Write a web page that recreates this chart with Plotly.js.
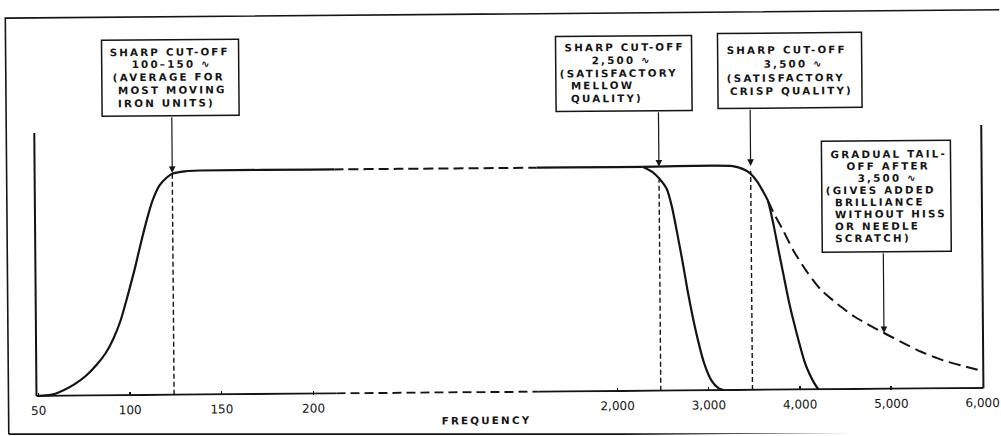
<!DOCTYPE html>
<html>
<head>
<meta charset="utf-8">
<script src="https://cdn.plot.ly/plotly-3.0.1.min.js"></script>
<style>
  html, body { margin: 0; padding: 0; background: #fff; overflow: hidden; }
  #wrap { width: 1001px; height: 436px; transform: rotate(-0.48deg); transform-origin: 500px 218px; }
  #chart { width: 1001px; height: 436px; }
  .annotation-text { letter-spacing: 2.2px; }
</style>
</head>
<body>
<div id="wrap"><div id="chart"></div></div>
<script>
// ---------------- data (frequency in cycles per second, relative response level) ----------------
const lowTicks = [50, 100, 150, 200];
const lowTickText = ['50', '100', '150', '200'];
const highTicks = [2000, 3000, 4000, 5000, 6000];
const highTickText = ['2,000', '3,000', '4,000', '5,000', '6,000'];

// bass rise up to the 100-150 cut-off
const riseFreq  = [50, 54, 58, 64, 70, 76, 82, 87, 91, 95, 99, 103, 106, 110, 113, 117, 121, 124, 131];
const riseLevel = [0, 0.002, 0.006, 0.025, 0.052, 0.088, 0.138, 0.19, 0.25, 0.33, 0.44, 0.56, 0.66, 0.785, 0.865, 0.935, 0.97, 0.987, 0.997];

// flat middle of the response
const plateauFreq  = [139, 200, 500, 1000, 2000, 2296];
const plateauLevel = [1, 1, 1, 1, 1, 1];

// sharp cut-off at 2,500 (mellow)
const mellowFreq  = [2296, 2405, 2482, 2559, 2614, 2668, 2723, 2778, 2833, 2888, 2953, 3030, 3107, 3162];
const mellowLevel = [1.0, 0.976, 0.945, 0.9, 0.82, 0.705, 0.58, 0.445, 0.325, 0.222, 0.12, 0.044, 0.009, 0];

// sharp cut-off at 3,500 (crisp)
const crispFreq  = [2296, 3282, 3392, 3468, 3545, 3611, 3666, 3721, 3775, 3830, 3885, 3940, 3995, 4049, 4104, 4159, 4203];
const crispLevel = [1, 1, 0.987, 0.969, 0.933, 0.888, 0.844, 0.746, 0.629, 0.513, 0.397, 0.299, 0.21, 0.129, 0.071, 0.027, 0];

// gradual tail-off after 3,500
const tailFreq  = [3666, 3742, 3830, 3940, 4093, 4236, 4422, 4597, 4784, 4926, 5112, 5332, 5584, 5770, 6000];
const tailLevel = [0.844, 0.778, 0.711, 0.621, 0.522, 0.446, 0.379, 0.325, 0.28, 0.249, 0.209, 0.164, 0.123, 0.101, 0.076];

// dashed cut-off markers
const cutoffFreq = [124, 2475, 3480];
const cutoffTop  = [0.99, 0.94, 0.978];

// arrow targets
const arrowFreq  = [124, 2475, 3480, 4926];
const arrowLevel = [0.99, 1.0, 1.0, 0.249];

// note texts
const note1 = ['SHARP CUT-OFF', '100–150 ∿', '(AVERAGE FOR', 'MOST MOVING', 'IRON UNITS)'];
const note2 = ['SHARP CUT-OFF', '2,500 ∿', '(SATISFACTORY', 'MELLOW', 'QUALITY)'];
const note3 = ['SHARP CUT-OFF', '3,500 ∿', '(SATISFACTORY', 'CRISP QUALITY)'];
const note4 = ['GRADUAL TAIL-', 'OFF AFTER', '3,500 ∿', '(GIVES ADDED', 'BRILLIANCE', 'WITHOUT HISS', 'OR NEEDLE', 'SCRATCH)'];
const xTitle = 'FREQUENCY';

// ---------------- layout geometry ----------------
const INK = '#141414';
const L = 35, R = 982, T = 129, B = 393;
const W = R - L, H = B - T;
const Y_UNIT = 224;
const yMin = -1 / Y_UNIT, yMax = yMin + H / Y_UNIT;
const paperX = p => (p - L) / W;
const paperY = p => (B - p) / H;
const levelPx = lv => B - (lv - yMin) * Y_UNIT;

const BREAK1 = 335, BREAK2 = 537;
const S1 = 1.833, S2 = 0.09125;
const xRange1 = [50 - (37 - L) / S1, 50 + (BREAK1 - 37) / S1];
const xRange2 = [6000 - (981 - BREAK2) / S2, 6000 + (R - 981) / S2];
const xRange3 = [xRange1[1], xRange2[0]];

function curve(x, y, xa, dash, width) {
  return {
    type: 'scatter', mode: 'lines', x: x, y: y, xaxis: xa, yaxis: 'y',
    line: { color: INK, width: width || 2.2, dash: dash || 'solid', shape: 'spline', smoothing: 0.6 },
    hoverinfo: 'skip', showlegend: false
  };
}

const traces = [
  curve(riseFreq.concat(plateauFreq), riseLevel.concat(plateauLevel), 'x'),
  curve(plateauFreq, plateauLevel, 'x3', '10px,5px', 2),
  curve(plateauFreq, plateauLevel, 'x2'),
  curve(mellowFreq, mellowLevel, 'x2'),
  curve(crispFreq, crispLevel, 'x2'),
  curve(tailFreq, tailLevel, 'x2', '12px,6px', 2)
];
cutoffFreq.forEach((f, i) => {
  traces.push({
    type: 'scatter', mode: 'lines', x: [f, f], y: [0, cutoffTop[i]],
    xaxis: f < xRange1[1] ? 'x' : 'x2', yaxis: 'y',
    line: { color: INK, width: 1.4, dash: '5px,3px' }, hoverinfo: 'skip', showlegend: false
  });
});

const tickFont = { family: 'DejaVu Sans', size: 12, color: INK };
function xAxis(domain, range, vals, text) {
  return {
    domain: domain, range: range, anchor: 'y', showgrid: false, zeroline: false, showline: false,
    tickmode: 'array', tickvals: vals || [], ticktext: text || [],
    ticks: vals ? 'inside' : '', ticklen: 4, tickwidth: 1.4, tickcolor: INK,
    showticklabels: !!vals, tickfont: tickFont, ticklabelstandoff: 5, fixedrange: true
  };
}

const shapes = [
  // outer frame: left, top, bottom edges
  { type: 'path', xref: 'paper', yref: 'paper',
    path: 'M' + paperX(1015) + ',' + paperY(14) + ' L' + paperX(7) + ',' + paperY(14) + ' L' + paperX(7) + ',' + paperY(430),
    line: { color: INK, width: 1.6 } },
  { type: 'line', xref: 'paper', yref: 'paper', x0: paperX(7), x1: paperX(1015), y0: paperY(430), y1: paperY(438.5),
    line: { color: INK, width: 1.6 } },
  // baseline, solid / dashed / solid
  { type: 'line', xref: 'x domain', yref: 'y', x0: 0, x1: 1, y0: 0, y1: 0, line: { color: INK, width: 2 } },
  { type: 'line', xref: 'x3 domain', yref: 'y', x0: 0, x1: 1, y0: 0, y1: 0, line: { color: INK, width: 2, dash: '9px,5px' } },
  { type: 'line', xref: 'x2 domain', yref: 'y', x0: 0, x1: 1, y0: 0, y1: 0, line: { color: INK, width: 2 } },
  // vertical axis lines
  { type: 'line', xref: 'paper', yref: 'y', x0: 0, x1: 0, y0: 0, y1: yMax, line: { color: INK, width: 2 } },
  { type: 'line', xref: 'paper', yref: 'y', x0: 1, x1: 1, y0: 0, y1: yMax, line: { color: INK, width: 2 } }
];

const boxes = [
  { lines: note1, x0: 103, x1: 240, y0: 37, y1: 113, first: 48.5, gap: 12.9,
    xs: [110, 173, 113, 118, 118], anchors: ['left', 'center', 'left', 'left', 'left'] },
  { lines: note2, x0: 557, x1: 693, y0: 37, y1: 112, first: 47.7, gap: 12.9,
    xs: [565, 623, 560, 571, 571], anchors: ['left', 'center', 'left', 'left', 'left'] },
  { lines: note3, x0: 719, x1: 863, y0: 35.4, y1: 110.4, first: 52.4, gap: 13.7,
    xs: [727, 795, 727, 730], anchors: ['left', 'center', 'left', 'left'] },
  { lines: note4, x0: 822, x1: 951, y0: 144, y1: 255, first: 156.5, gap: 12.14,
    xs: [889, 888, 888, 881, 834, 834, 834, 834], anchors: ['center', 'center', 'center', 'center', 'left', 'left', 'left', 'left'] }
];

const noteFont = { family: 'DejaVu Sans', size: 10.3, weight: 'bold', color: INK };
const annotations = [];
boxes.forEach(b => {
  shapes.push({ type: 'rect', xref: 'paper', yref: 'paper', x0: paperX(b.x0), x1: paperX(b.x1),
    y0: paperY(b.y1), y1: paperY(b.y0), line: { color: INK, width: 1.5 }, fillcolor: '#fff', layer: 'above' });
  b.lines.forEach((t, i) => {
    annotations.push({ xref: 'paper', yref: 'paper', x: paperX(b.xs[i]), y: paperY(b.first + i * b.gap),
      xanchor: b.anchors[i], yanchor: 'middle', text: t, showarrow: false, font: noteFont, borderpad: 0 });
  });
});

// arrows from each note down to the curve
arrowFreq.forEach((f, i) => {
  annotations.push({
    xref: f < xRange1[1] ? 'x' : 'x2', yref: 'y', x: f, y: arrowLevel[i],
    text: '', showarrow: true, arrowhead: 2, arrowsize: 1.1, arrowwidth: 1.2, arrowcolor: INK,
    ax: 0, ay: boxes[i].y1 - levelPx(arrowLevel[i]), standoff: 0, startstandoff: 0
  });
});

annotations.push({ xref: 'paper', yref: 'paper', x: paperX(485), y: paperY(420), xanchor: 'center', yanchor: 'middle',
  text: xTitle, showarrow: false, borderpad: 0, font: { family: 'DejaVu Sans', size: 10.3, weight: 'bold', color: INK } });

const layout = {
  width: 1001, height: 436,
  margin: { l: L, r: 1001 - R, t: T, b: 436 - B, pad: 0 },
  paper_bgcolor: '#fff', plot_bgcolor: 'rgba(0,0,0,0)',
  showlegend: false,
  xaxis: xAxis([0, paperX(BREAK1)], xRange1, lowTicks, lowTickText),
  xaxis3: xAxis([paperX(BREAK1), paperX(BREAK2)], xRange3, null, null),
  xaxis2: xAxis([paperX(BREAK2), 1], xRange2, highTicks, highTickText),
  yaxis: { range: [yMin, yMax], visible: false, showgrid: false, zeroline: false, fixedrange: true },
  shapes: shapes,
  annotations: annotations
};

Plotly.newPlot('chart', traces, layout, { staticPlot: true, displayModeBar: false });
</script>
</body>
</html>
